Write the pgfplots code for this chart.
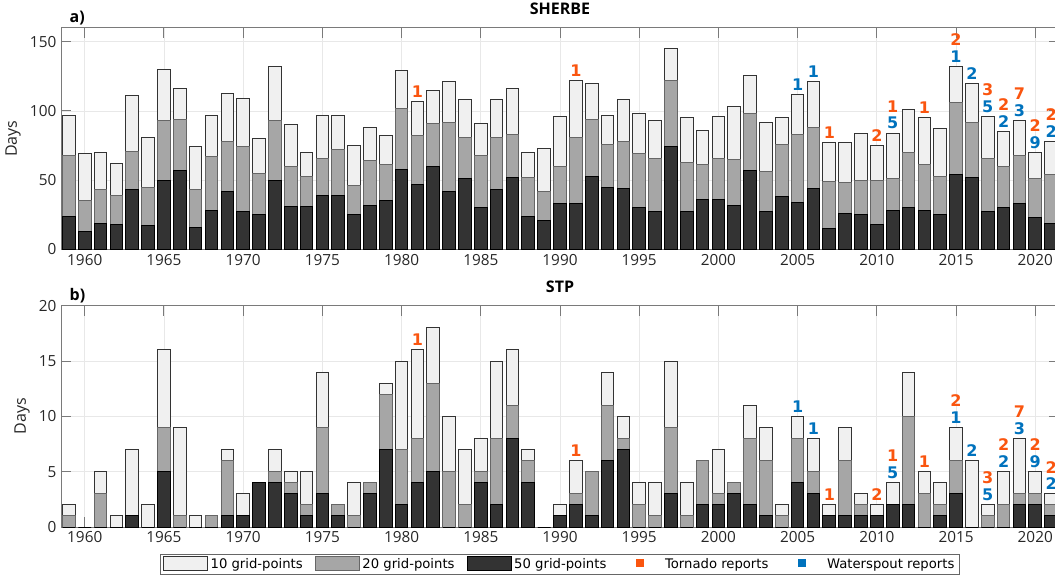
\documentclass[border=0pt]{standalone}
\usepackage{pgfplots}
\pgfplotsset{compat=1.18}
\usepackage{pgfplotstable}
\usepackage{fontspec}
\setmainfont{Open Sans}
\newfontfamily\dejavu{DejaVu Sans}
\definecolor{cA}{HTML}{F0F0F0}
\definecolor{cB}{HTML}{A6A6A6}
\definecolor{cC}{HTML}{333333}
\definecolor{torn}{RGB}{250,85,15}
\definecolor{wsp}{RGB}{0,114,189}
\definecolor{axc}{HTML}{7A7A7A}

\pgfplotstableread{
yr a b c
1959 97 68 24
1960 69 35 13
1961 70 43 19
1962 62 39 18
1963 111 71 43
1964 81 45 17
1965 130 93 50
1966 116 94 57
1967 74 43 16
1968 97 67 28
1969 113 78 42
1970 109 74 27
1971 80 55 25
1972 132 93 50
1973 90 60 31
1974 70 53 31
1975 97 66 39
1976 97 72 39
1977 75 46 25
1978 88 64 32
1979 82 61 35
1980 129 102 58
1981 107 82 47
1982 115 91 60
1983 121 92 42
1984 108 81 51
1985 91 68 30
1986 108 81 43
1987 116 83 52
1988 70 52 24
1989 73 42 21
1990 96 60 33
1991 122 81 33
1992 120 94 53
1993 97 76 45
1994 108 78 44
1995 98 69 30
1996 93 66 27
1997 145 122 74
1998 95 63 27
1999 86 61 36
2000 96 66 36
2001 103 65 32
2002 126 98 57
2003 92 56 27
2004 95 76 38
2005 112 83 34
2006 121 88 44
2007 77 49 15
2008 77 48 26
2009 84 50 25
2010 75 50 18
2011 84 51 28
2012 101 70 30
2013 95 61 28
2014 87 53 25
2015 132 106 54
2016 120 92 52
2017 96 66 27
2018 85 60 30
2019 93 68 33
2020 70 51 23
2021 78 54 19
}\sherbe

\pgfplotstableread{
yr a b c
1959 2 1 0
1960 0 0 0
1961 5 3 0
1962 1 0 0
1963 7 1 1
1964 2 0 0
1965 16 9 5
1966 9 1 0
1967 1 0 0
1968 1 1 0
1969 7 6 1
1970 3 1 1
1971 4 4 4
1972 7 5 4
1973 5 4 3
1974 5 2 1
1975 14 9 3
1976 2 2 1
1977 4 1 0
1978 4 4 3
1979 13 12 7
1980 15 7 2
1981 16 8 4
1982 18 13 5
1983 10 5 0
1984 7 2 0
1985 8 5 4
1986 15 8 2
1987 16 11 8
1988 7 6 4
1989 0 0 0
1990 2 1 1
1991 6 3 2
1992 5 5 1
1993 14 11 6
1994 10 8 7
1995 4 2 0
1996 4 1 0
1997 15 9 3
1998 4 1 0
1999 6 6 2
2000 7 3 2
2001 4 4 3
2002 11 8 2
2003 9 6 1
2004 2 1 0
2005 10 8 4
2006 8 5 3
2007 2 1 1
2008 9 6 1
2009 3 2 1
2010 2 1 1
2011 4 2 2
2012 14 10 2
2013 5 3 0
2014 4 2 1
2015 9 6 3
2016 6 0 0
2017 2 1 0
2018 5 2 0
2019 8 3 2
2020 5 3 2
2021 3 2 1
}\stp

% tornado labels: year, bar top, label, level (1 = above a waterspout label)
\pgfplotstableread{
x y lab lvl
1981 107 1 0
1991 122 1 0
2007 77 1 0
2010 75 2 0
2011 84 1 1
2013 95 1 0
2015 132 2 1
2017 96 3 1
2018 85 2 1
2019 93 7 1
2020 70 2 1
2021 78 2 1
}\tornA
\pgfplotstableread{
x y lab lvl
2005 112 1 0
2006 121 1 0
2011 84 5 0
2015 132 1 0
2016 120 2 0
2017 96 5 0
2018 85 2 0
2019 93 3 0
2020 70 9 0
2021 78 2 0
}\wspA
\pgfplotstableread{
x y lab lvl
1981 16 1 0
1991 6 1 0
2007 2 1 0
2010 2 2 0
2011 4 1 1
2013 5 1 0
2015 9 2 1
2017 2 3 1
2018 5 2 1
2019 8 7 1
2020 5 2 1
2021 3 2 1
}\tornB
\pgfplotstableread{
x y lab lvl
2005 10 1 0
2006 8 1 0
2011 4 5 0
2015 9 1 0
2016 6 2 0
2017 2 5 0
2018 5 2 0
2019 8 3 0
2020 5 9 0
2021 3 2 0
}\wspB

\pgfplotsset{
  panel/.style={
    scale only axis, width=748.5pt, height=166pt,
    xmin=1958.5, xmax=2021.5, ymin=0,
    xtick={1960,1965,...,2020},
    tick align=inside, tick pos=both, major tick length=7.5pt,
    grid=major, grid style={black!9, line width=0.6pt},
    axis line style={axc, line width=0.75pt},
    every tick/.style={axc, line width=0.75pt},
    tick label style={font=\fontsize{11.5}{13}\selectfont, text=black!85},
    label style={font=\fontsize{12}{14}\selectfont, text=black!85},
    /pgf/number format/assume math mode=true,
    x tick label style={/pgf/number format/.cd, 1000 sep={}},
    ylabel={Days},
    title style={font=\fontsize{12}{14}\selectfont\bfseries, at={(0.5,1)}, anchor=base, yshift=3.8pt},
  },
  barA/.style={ybar, bar width=0.8, bar shift=0pt, fill=cA, draw=black!80, line width=0.75pt,
    legend image code/.code={\draw[fill=cA, draw=black!80, line width=0.75pt] (0pt,-4pt) rectangle (33pt,6pt);}},
  barB/.style={ybar, bar width=0.8, bar shift=0pt, fill=cB, draw=black!60, line width=0.75pt,
    legend image code/.code={\draw[fill=cB, draw=black!60, line width=0.75pt] (0pt,-4pt) rectangle (33pt,6pt);}},
  barC/.style={ybar, bar width=0.8, bar shift=0pt, fill=cC, draw=black, line width=0.75pt,
    legend image code/.code={\draw[fill=cC, draw=black, line width=0.75pt] (0pt,-4pt) rectangle (33pt,6pt);}},
  lab/.style={draw=none, mark=none, point meta=explicit symbolic, nodes near coords,
    visualization depends on={\thisrow{lvl}\as\lvl},
    every node near coord/.append style={font=\dejavu\bfseries\fontsize{12}{14}\selectfont, text=#1, anchor=south, inner sep=0pt, yshift={2.8pt+\lvl*12.6pt}},
    legend image code/.code={\path (0pt,0pt) rectangle (33pt,1pt); \fill[#1] (13.5pt,-2pt) rectangle (19.5pt,4pt);}},
}

\begin{document}
\begin{tikzpicture}
\useasboundingbox (0,0) rectangle (791.25pt,435pt);

\begin{axis}[panel, name=top, at={(45.75pt,414pt)}, anchor=north west,
  ymax=160, ytick={0,50,100,150}, title={SHERBE}]
\addplot[barA] table[x=yr,y=a] {\sherbe};
\addplot[barB] table[x=yr,y=b] {\sherbe};
\addplot[barC] table[x=yr,y=c] {\sherbe};
\addplot[lab=torn] table[x=x,y=y,meta=lab] {\tornA};
\addplot[lab=wsp] table[x=x,y=y,meta=lab] {\wspA};
\end{axis}
\node[font=\fontsize{12}{14}\selectfont\bfseries, anchor=base west] at ([xshift=3pt,yshift=3.8pt]top.north west) {a)};

\begin{axis}[panel, name=bot, at={(45.75pt,205.7pt)}, anchor=north west,
  ymax=20, ytick={0,5,10,15,20}, title={STP},
  legend style={at={(0.5,0)}, anchor=north, yshift=-20.5pt, legend columns=5,
    draw=black!60, line width=0.6pt, font=\dejavu\fontsize{9.9}{12}\selectfont,
    inner xsep=2pt, inner ysep=1pt,
    /tikz/every even column/.append style={column sep=7pt}},
  legend cell align=left]
\addplot[barA] table[x=yr,y=a] {\stp};
\addlegendentry{10 grid-points}
\addplot[barB] table[x=yr,y=b] {\stp};
\addlegendentry{20 grid-points}
\addplot[barC] table[x=yr,y=c] {\stp};
\addlegendentry{50 grid-points}
\addplot[lab=torn] table[x=x,y=y,meta=lab] {\tornB};
\addlegendentry{Tornado reports}
\addplot[lab=wsp] table[x=x,y=y,meta=lab] {\wspB};
\addlegendentry{Waterspout reports}
\end{axis}
\node[font=\fontsize{12}{14}\selectfont\bfseries, anchor=base west] at ([xshift=3pt,yshift=3.8pt]bot.north west) {b)};
\end{tikzpicture}
\end{document}
